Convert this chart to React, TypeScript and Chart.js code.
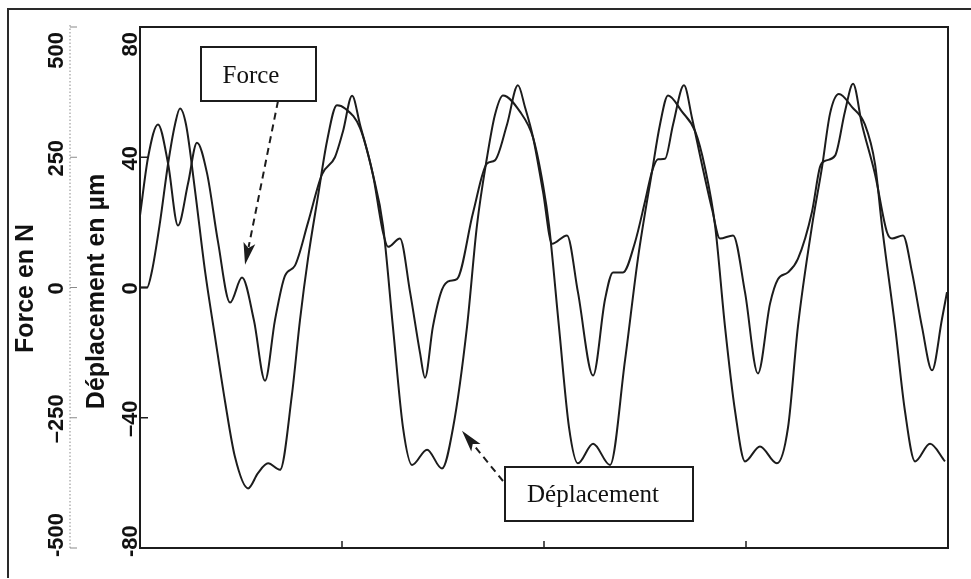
import React, { useEffect, useRef } from "react";
import { Chart, registerables } from "chart.js";

Chart.register(...registerables);

// ---- Data (time in axis units, 3 intervals marked) ----
const forceT = [
  0, 0.04, 0.089, 0.139, 0.188, 0.238, 0.282, 0.332, 0.386, 0.446, 0.505, 0.564, 0.619, 0.668, 0.718, 0.767,
  0.832, 0.901, 0.965, 1.005, 1.05, 1.089, 1.153, 1.203, 1.228, 1.287, 1.337, 1.386, 1.411, 1.45, 1.495,
  1.535, 1.569, 1.649, 1.718, 1.757, 1.817, 1.871, 1.906, 1.946, 1.995, 2.04, 2.114, 2.168, 2.243, 2.302,
  2.342, 2.391, 2.45, 2.5, 2.535, 2.564, 2.599, 2.639, 2.693, 2.733, 2.782, 2.832, 2.871, 2.936, 2.995,
  3.059, 3.119, 3.158, 3.208, 3.257, 3.327, 3.366, 3.391, 3.441, 3.49, 3.53, 3.574, 3.639, 3.698, 3.723,
  3.777, 3.822, 3.871, 3.921, 3.97, 3.995,
];
const forceN = [
  138, 250, 313, 238, 119, 200, 278, 219, 88, -29, 19, -63, -179, -63, 23, 42,
  125, 217, 250, 300, 368, 313, 217, 106, 78, 94, -9, -125, -173, -75, -4,
  13, 16, 144, 238, 244, 313, 388, 346, 288, 184, 84, 100, -9, -169, -23,
  29, 29, 86, 165, 223, 246, 247, 313, 388, 325, 236, 150, 94, 100, -9,
  -165, -31, 16, 29, 55, 146, 231, 243, 253, 338, 391, 313, 217, 106, 94,
  100, 29, -75, -159, -61, -9,
];
const dispT = [
  0, 0.035, 0.059, 0.099, 0.139, 0.173, 0.198, 0.228, 0.272, 0.322, 0.371, 0.421, 0.47, 0.535, 0.584,
  0.634, 0.693, 0.752, 0.792, 0.832, 0.881, 0.926, 0.975, 1.015, 1.089, 1.153, 1.203, 1.252, 1.302,
  1.347, 1.421, 1.495, 1.55, 1.619, 1.668, 1.718, 1.757, 1.797, 1.881, 1.946, 1.995, 2.025, 2.074,
  2.124, 2.168, 2.243, 2.327, 2.401, 2.465, 2.535, 2.574, 2.614, 2.683, 2.748, 2.797, 2.847, 2.896,
  2.946, 2.995, 3.069, 3.153, 3.208, 3.257, 3.327, 3.376, 3.416, 3.46, 3.525, 3.589, 3.639, 3.673,
  3.738, 3.787, 3.837, 3.911, 3.985,
];
const dispUm = [
  0, 0, 5, 20, 38, 50, 55, 50, 30, 5, -15, -35, -52, -61.7, -57,
  -54, -56, -33, -10, 9, 28, 45, 56, 55, 49, 34.7, 19, -12, -43,
  -54.5, -49.8, -55.6, -43, -12, 19, 40, 53, 59, 54, 46, 31.6, 19, -12,
  -43, -54, -48, -54.5, -22.4, 8.9, 35.7, 50, 59, 54, 48, 36.8, 19, -12,
  -38, -53.4, -48.8, -54, -43, -12, 19, 36.8, 53.4, 59.4, 55.4, 50, 37.8, 19,
  -12, -38, -53.4, -48, -53.4,
];

const dispTicks = [80, 40, 0, -40, -80];
const dispTickLabels = ["80", "40", "0", "\u201340", "-80"];
const forceTicks = [500, 250, 0, -250, -500];
const forceTickLabels = ["500", "250", "0", "\u2013250", "-500"];
const timeTicks = [1, 2, 3];
const forceTitle = "Force en N";
const dispTitle = "D\u00e9placement en \u00b5m";
const forceNote = "Force";
const dispNote = "D\u00e9placement";

const INK = "#1c1c1c";

function rotText(ctx: CanvasRenderingContext2D, text: string, bx: number, y: number, align: CanvasTextAlign) {
  ctx.save();
  ctx.translate(bx, y);
  ctx.rotate(-Math.PI / 2);
  ctx.textAlign = align;
  ctx.textBaseline = "alphabetic";
  ctx.fillText(text, 0, 0);
  ctx.restore();
}

function dashedArrow(ctx: CanvasRenderingContext2D, x1: number, y1: number, x2: number, y2: number) {
  const ang = Math.atan2(y2 - y1, x2 - x1);
  const head = 22;
  const hw = 6;
  const c = Math.cos(ang);
  const s = Math.sin(ang);
  const bx = x2 - head * c;
  const by = y2 - head * s;
  ctx.save();
  ctx.strokeStyle = INK;
  ctx.fillStyle = INK;
  ctx.lineWidth = 2;
  ctx.setLineDash([7, 5]);
  ctx.beginPath();
  ctx.moveTo(x1, y1);
  ctx.lineTo(bx + 4 * c, by + 4 * s);
  ctx.stroke();
  ctx.setLineDash([]);
  ctx.beginPath();
  ctx.moveTo(x2, y2);
  ctx.lineTo(bx - hw * s, by + hw * c);
  ctx.lineTo(bx + 5 * c, by + 5 * s);
  ctx.lineTo(bx + hw * s, by - hw * c);
  ctx.closePath();
  ctx.fill();
  ctx.restore();
}

function noteBox(ctx: CanvasRenderingContext2D, text: string, x: number, y: number, w: number, h: number, tx: number, ty: number) {
  ctx.save();
  ctx.fillStyle = "#fff";
  ctx.fillRect(x, y, w, h);
  ctx.strokeStyle = INK;
  ctx.lineWidth = 2;
  ctx.strokeRect(x, y, w, h);
  ctx.fillStyle = "#111";
  ctx.font = '25px "Liberation Serif", "Times New Roman", serif';
  ctx.textAlign = "center";
  ctx.textBaseline = "alphabetic";
  ctx.fillText(text, tx, ty);
  ctx.restore();
}

const decor = {
  id: "decor",
  beforeDraw(chart: any) {
    const ctx = chart.ctx;
    ctx.save();
    ctx.fillStyle = "#fff";
    ctx.fillRect(0, 0, chart.width, chart.height);
    ctx.restore();
  },
  afterDraw(chart: any) {
    const ctx: CanvasRenderingContext2D = chart.ctx;
    const a = chart.chartArea;
    const xs = chart.scales.x;
    const ys = chart.scales.y;
    const fs = chart.scales.yF;
    ctx.save();

    // outer frame of the figure
    ctx.strokeStyle = "#2a2a2a";
    ctx.lineWidth = 2;
    ctx.beginPath();
    ctx.moveTo(8, 578);
    ctx.lineTo(8, 9);
    ctx.lineTo(971, 9);
    ctx.stroke();

    // plot box
    ctx.strokeStyle = INK;
    ctx.lineWidth = 2;
    ctx.strokeRect(a.left, a.top, a.right - a.left, a.bottom - a.top);

    // inner y ticks (pointing into the plot)
    ctx.lineWidth = 1.5;
    dispTicks.forEach((v) => {
      const y = ys.getPixelForValue(v);
      ctx.beginPath();
      ctx.moveTo(a.left, y);
      ctx.lineTo(a.left + 8, y);
      ctx.stroke();
    });
    // x ticks
    timeTicks.forEach((t) => {
      const x = xs.getPixelForValue(t);
      ctx.beginPath();
      ctx.moveTo(x, a.bottom);
      ctx.lineTo(x, a.bottom - 7);
      ctx.stroke();
    });

    // outer force axis (dotted)
    const ox = 70;
    ctx.strokeStyle = "#8a8a8a";
    ctx.lineWidth = 1;
    ctx.setLineDash([1.5, 2]);
    ctx.beginPath();
    ctx.moveTo(ox, fs.getPixelForValue(500) - 2);
    ctx.lineTo(ox, fs.getPixelForValue(-500) + 2);
    ctx.stroke();
    ctx.setLineDash([]);
    forceTicks.forEach((v) => {
      const y = fs.getPixelForValue(v);
      ctx.beginPath();
      ctx.moveTo(ox, y);
      ctx.lineTo(ox + 7, y);
      ctx.stroke();
    });

    // tick labels
    ctx.fillStyle = "#111";
    ctx.font = 'bold 22px "Liberation Sans", Arial, sans-serif';
    const n = dispTicks.length;
    dispTicks.forEach((v, i) => {
      const y = ys.getPixelForValue(v);
      if (i === 0) rotText(ctx, dispTickLabels[i], 137, y + 5, "right");
      else if (i === n - 1) rotText(ctx, dispTickLabels[i], 137, y + 9, "left");
      else rotText(ctx, dispTickLabels[i], 137, y + 1, "center");
    });
    forceTicks.forEach((v, i) => {
      const y = fs.getPixelForValue(v);
      if (i === 0) rotText(ctx, forceTickLabels[i], 63, y + 5, "right");
      else if (i === n - 1) rotText(ctx, forceTickLabels[i], 63, y + 9, "left");
      else rotText(ctx, forceTickLabels[i], 63, y + 1, "center");
    });

    // axis titles
    ctx.font = 'bold 25px "Liberation Sans", Arial, sans-serif';
    const mid = (a.top + a.bottom) / 2;
    rotText(ctx, forceTitle, 33, mid + 1, "center");
    rotText(ctx, dispTitle, 104, mid + 4, "center");

    // annotations
    noteBox(ctx, forceNote, 201, 47, 115, 54, 251, 83);
    dashedArrow(ctx, 278, 101, xs.getPixelForValue(0.52), ys.getPixelForValue(7));
    noteBox(ctx, dispNote, 505, 467, 188, 54, 593, 502);
    dashedArrow(ctx, 503, 481, xs.getPixelForValue(1.594), ys.getPixelForValue(-44));

    ctx.restore();
  },
};

export default function App() {
  const ref = useRef<HTMLCanvasElement | null>(null);
  useEffect(() => {
    if (!ref.current) return;
    const chart = new Chart(ref.current, {
      type: "line",
      data: {
        datasets: [
          {
            label: forceNote,
            data: forceT.map((t, i) => ({ x: t, y: forceN[i] })),
            yAxisID: "yF",
            borderColor: INK,
            borderWidth: 2,
            pointRadius: 0,
            fill: false,
            cubicInterpolationMode: "monotone",
          },
          {
            label: dispNote,
            data: dispT.map((t, i) => ({ x: t, y: dispUm[i] })),
            yAxisID: "y",
            borderColor: INK,
            borderWidth: 2,
            pointRadius: 0,
            fill: false,
            cubicInterpolationMode: "monotone",
          },
        ],
      },
      options: {
        animation: false,
        responsive: false,
        devicePixelRatio: 1,
        layout: { padding: { left: 140, right: 23, top: 27, bottom: 31 } },
        plugins: { legend: { display: false }, tooltip: { enabled: false } },
        events: [],
        scales: {
          x: { type: "linear", min: 0, max: 4, display: false },
          y: { type: "linear", min: -80, max: 80, display: false },
          yF: { type: "linear", min: -500, max: 500, display: false },
        },
      },
      plugins: [decor],
    });
    return () => chart.destroy();
  }, []);
  return (
    <div style={{ position: "absolute", left: 0, top: 0, width: 971, height: 579, background: "#fff" }}>
      <canvas ref={ref} width={971} height={579} style={{ display: "block" }} />
    </div>
  );
}
